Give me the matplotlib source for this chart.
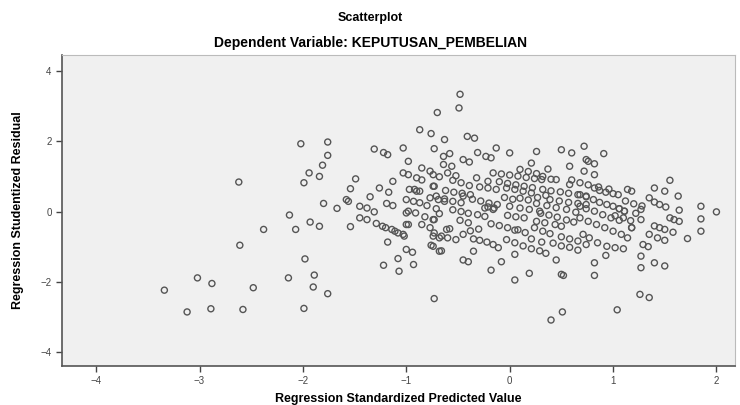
import matplotlib
matplotlib.use("Agg")
import matplotlib.pyplot as plt

# Regression Standardized Predicted Value (x) / Regression Studentized Residual (y)
predicted = [
    # left sparse
    -2.62, -2.13, -2.38, -2.61, -3.02, -2.88, -3.34, -2.48, -2.14, -3.12, -2.89, -2.58,
    -1.99, -1.76, -1.90, -1.89, -1.98,
    -2.02, -1.76, -1.76, -1.81, -1.94, -1.84, -1.99, -1.80, -1.67, -1.56, -1.93, -1.84,
    -2.07, -1.54, -1.49, -1.54, -1.58, -1.35, -1.26, -1.17,
    # top
    -0.48, -0.49, -0.70, -0.87, -0.76, -0.63, -0.41, -0.34, -1.31, -1.22, -1.18, -1.03,
    -0.98, -0.73, -0.58, -0.31, -0.23, -0.18, -0.13, 0.00, 0.26, 0.50, 0.60, 0.72, 0.74,
    0.58, 0.37, 0.21, -0.45, -0.39, -0.64, -0.56, -0.85, -0.77, -1.03, -0.98, -0.90,
    -0.74, -0.68, -1.13, -0.92, -0.87, -0.73, 0.91, 0.76, 0.82, 0.72, 0.82, -0.64,
    # right
    1.55, 1.40, 1.50, 1.14, 1.18, 1.63, 1.85, 2.00, 1.85, 1.85, 1.72, 1.64, 1.64, 1.55,
    1.59, 1.50, 1.58, 1.40, 1.45, 1.35, 1.43, 1.50, 1.29, 1.34, 1.27, 1.27, 1.40, 1.50,
    0.82, 0.82, 0.93, 1.18, 1.27, 1.27, 1.06, 1.11, 1.35, 1.40, 1.45, 1.51,
    0.82, 0.87, 0.93, 1.00, 1.05,
    # bottom
    1.26, 1.35, 1.04, 0.51, 0.40, 0.52, -0.73, 0.05, 0.19, -0.18, -0.08, -0.45, -0.40,
    -0.35, 0.45, 0.50, 0.05, -0.74, -0.68, -1.18, -1.00, -0.94, -1.08, -1.22, -1.07, -0.93,
    # mid-left band
    -1.45, -1.38, -1.31, -1.19, -1.13, -1.45, -1.38, -1.29, -1.20, -1.11, -1.03, -1.00,
    -1.00, -1.00, -0.93, -0.87, -0.80, -0.71, -0.98, -0.91, -0.82, -0.74, -0.97, -0.90,
    -0.77, -0.69, -0.74, -0.63, -1.23, -1.14, -1.08, -1.02, -0.98, -0.85, -0.77, -0.74,
    -0.68, -0.61,
    # core
    -0.16, -0.08, 0.00, 0.08, 0.16, 0.24, 0.31,
    -0.55, -0.47, -0.39, -0.29, -0.21, -0.13, -0.32, -0.21,
    -0.03, 0.05, 0.13, 0.21,
    0.32, 0.40, 0.49, 0.57, 0.66, 0.74, 0.45, 0.58, 0.32, 0.40,
    -0.71, -0.63, -0.55, -0.47, -0.45, -0.24, -0.16,
    0.00, 0.10, 0.19, 0.29, 0.39, 0.48, 0.57, 0.66, 0.74,
    -0.02, 0.06, 0.14, 0.24, 0.32, 0.39, -0.21, -0.15, -0.48, -0.40, -0.58,
    -0.31, -0.24, -0.73, -0.66, -0.76, -0.66, -0.73, -0.68,
    0.26, 0.36, 0.45, 0.55, 0.64, 0.26, 0.34, 0.44, 0.50,
    0.50, 0.58, 0.66, 0.74, 0.21, 0.31,
    -0.35, -0.29, -0.22, -0.16, -0.11,
    -0.03, 0.05, 0.13, 0.21, 0.29, 0.35, 0.05,
    0.68, 0.74, 0.81, 0.87, 0.94, 1.00, 1.06, 1.11,
    0.68, 0.74, 0.82, 0.90, 0.98, 1.06, 1.18,
    0.68, 0.76, 0.84, 0.92, 1.00, 1.08, 1.14,
    0.71, 0.77, 0.85, 0.94, 1.02, 1.10,
    # core, extra stripes
    0.10, 0.18, 0.27, 0.35,
    0.30, 0.38, 0.46, 0.55, 0.62,
    -0.18, -0.10, -0.02, 0.08, 0.15,
    -0.55, -0.47, -0.40, -0.36, -0.28, -0.20, -0.12, -0.05, 0.03,
    -0.60, -0.52, -0.45, -0.38, -0.30,
    1.02, 1.10, 1.17, 1.22, 1.12, 1.20, 1.28,
    0.60, 0.68, 0.76, 0.86, 0.96,
    -0.10, -0.02, 0.06, 0.14, 0.22,
    0.42, 0.50, 0.58, 0.66,
    -0.62, -0.54, -0.46, -0.38,
    0.10, 0.18, 0.26,
    -0.85, -0.60, -0.52,
]
residual = [
    0.84, -0.10, -0.51, -0.96, -1.89, -2.05, -2.24, -2.17, -1.89, -2.86, -2.77, -2.79,
    -2.76, -2.34, -2.15, -1.81, -1.35,
    1.93, 1.98, 1.60, 1.32, 1.10, 1.00, 0.82, 0.23, 0.09, 0.29, -0.30, -0.42,
    -0.51, -0.43, 0.93, 0.65, 0.34, 0.42, 0.67, 0.55,
    3.34, 2.95, 2.82, 2.33, 2.22, 2.05, 2.14, 2.09, 1.78, 1.68, 1.62, 1.81,
    1.43, 1.79, 1.65, 1.68, 1.57, 1.53, 1.81, 1.67, 1.71, 1.76, 1.67, 1.86, 1.48,
    1.29, 1.21, 1.38, 1.48, 1.41, 1.34, 1.29, 1.24, 1.15, 1.10, 1.05, 0.96,
    1.05, 0.99, 0.86, 0.63, 0.58, 0.72, 1.65, 1.43, 1.36, 1.15, 1.05, 1.57,
    0.89, 0.67, 0.58, 0.63, 0.58, 0.44, 0.15, -0.01, -0.21, -0.56, -0.77, 0.04, -0.28, -0.18,
    -0.23, -0.51, -0.59, -0.41, -0.46, -0.65, -0.75, -0.82, -0.94, -1.00, -1.27, -1.60, -1.46, -1.55,
    -1.46, -1.82, -1.25, -0.46, -0.23, 0.06, 0.08, 0.01, 0.39, 0.27, 0.20, 0.13,
    0.67, 0.60, 0.55, 0.51, 0.48,
    -2.36, -2.45, -2.80, -2.86, -3.09, -1.82, -2.48, -1.95, -1.76, -1.67, -1.43, -1.38, -1.43,
    -1.13, -1.38, -1.79, -1.22, -0.99, -1.13, -0.87, -1.08, -1.16, -1.34, -1.53, -1.70, -1.51,
    0.15, 0.10, -0.01, 0.23, 0.17, -0.18, -0.23, -0.34, -0.46, -0.56, -0.65, -0.37,
    -0.04, 0.34, 0.29, 0.25, 0.17, 0.08, 0.01, -0.04, -0.15, -0.23, 0.63, 0.58,
    0.39, 0.34, 0.72, 0.29, -0.42, -0.51, -0.61, -0.70, -0.37, -0.37, -0.46, -0.70,
    -0.75, -0.51,
    1.10, 1.07, 1.04, 1.01, 0.97, 0.94, 0.91,
    0.89, 0.82, 0.74, 0.70, 0.67, 0.63, 0.96, 0.86,
    0.67, 0.63, 0.58, 0.53,
    0.63, 0.59, 0.56, 0.52, 0.48, 0.44, 0.91, 0.77, 1.00, 0.92,
    0.44, 0.36, 0.29, 0.25, 0.44, 0.10, 0.06,
    0.15, 0.10, 0.06, 0.01, 0.34, 0.30, 0.26, 0.23, 0.20,
    -0.11, -0.15, -0.18, -0.46, -0.56, -0.63, 0.13, 0.10, -0.25, -0.32, -0.49,
    -0.09, -0.14, -0.61, -0.70, -0.96, -1.12, -0.23, -0.06,
    0.23, 0.17, 0.11, 0.06, -0.02, -0.28, -0.32, -0.37, -0.42,
    -0.72, -0.78, -0.84, -0.94, -0.78, -0.87,
    -0.78, -0.82, -0.87, -0.94, -1.03,
    -0.80, -0.89, -0.98, -1.06, -1.12, -1.19, -0.53,
    0.48, 0.42, 0.34, 0.26, 0.20, 0.15, 0.08, 0.01,
    0.15, 0.08, 0.01, -0.09, -0.18, -0.25, -0.46,
    -0.18, -0.28, -0.37, -0.46, -0.56, -0.65, -0.75,
    -0.65, -0.75, -0.89, -0.99, -1.03, -1.06,
    0.38, 0.33, 0.40, 0.46,
    -0.05, -0.10, -0.16, -0.24, -0.30,
    -0.35, -0.40, -0.46, -0.52, -0.60,
    0.05, 0.00, -0.05, 0.35, 0.30, 0.24, 0.20, 0.40, 0.35,
    -0.75, -0.80, -0.65, -0.55, -0.50,
    -0.12, -0.18, -0.26, -0.05, 0.30, 0.22, 0.16,
    0.90, 0.82, 0.76, 0.70, 0.64,
    0.85, 0.80, 0.76, 0.72, 0.68,
    -0.90, -0.98, -1.02, -1.10,
    0.60, 0.55, 0.52, 0.48,
    1.20, 1.14, 1.08,
    0.90, 1.10, 1.02,
]

x_ticks = [-4, -3, -2, -1, 0, 1, 2]
y_ticks = [-4, -2, 0, 2, 4]

plt.rcParams['font.family'] = ['Liberation Sans', 'DejaVu Sans']

fig = plt.figure(figsize=(7.4, 4.05), dpi=100)
ax = fig.add_axes([0.0838, 0.0963, 0.9095, 0.768])
ax.set_facecolor('#f0f0f0')

ax.scatter(predicted, residual, s=19, facecolors='none', edgecolors='#555555', linewidths=1.0)

ax.set_xlim(-4.33, 2.18)
ax.set_ylim(-4.40, 4.46)
ax.set_xticks(x_ticks)
ax.set_yticks(y_ticks)
ax.tick_params(direction='out', length=4, width=1, colors='#444444', labelsize=7)

for side in ['top', 'right']:
    ax.spines[side].set_color('#bbbbbb')
    ax.spines[side].set_linewidth(0.8)
for side in ['left', 'bottom']:
    ax.spines[side].set_color('#555555')
    ax.spines[side].set_linewidth(1.2)

ax.set_xlabel('Regression Standardized Predicted Value', fontsize=9, fontweight='bold', labelpad=5)
ax.set_ylabel('Regression Studentized Residual', fontsize=9, fontweight='bold', labelpad=12)

fig.text(0.5, 0.955, 'Scatterplot', ha='center', va='center', fontsize=9, fontweight='bold')
fig.text(0.5, 0.893, 'Dependent Variable: KEPUTUSAN_PEMBELIAN', ha='center', va='center',
         fontsize=10, fontweight='bold')

fig.savefig('out.png', dpi=100)
